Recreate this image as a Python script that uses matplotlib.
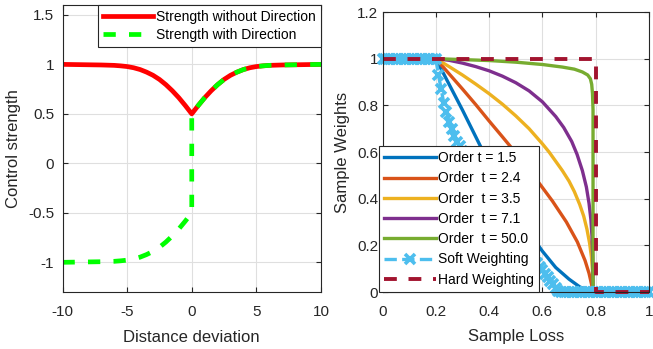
import numpy as np
import matplotlib
matplotlib.use('Agg')
import matplotlib.pyplot as plt

plt.rcParams['font.family'] = ['Liberation Sans', 'DejaVu Sans']

# ---- left panel data ----
dist_x = [-10, -9, -8, -7, -6, -5.5, -5, -4.5, -4, -3.5, -3, -2.5, -2, -1.5, -1, -0.5, 0,
          0.5, 1, 1.5, 2, 2.5, 3, 3.5, 4, 4.5, 5, 5.5, 6, 7, 8, 9, 10]
strength_plain = [1.0, 0.998, 0.996, 0.994, 0.99, 0.985, 0.978, 0.966, 0.948, 0.922, 0.89, 0.848,
                  0.795, 0.733, 0.663, 0.584, 0.5,
                  0.584, 0.663, 0.733, 0.795, 0.848, 0.89, 0.922, 0.948, 0.966, 0.978, 0.985, 0.99,
                  0.994, 0.996, 0.998, 1.0]
dist_x_dir = [-10, -9, -8, -7, -6, -5.5, -5, -4.5, -4, -3.5, -3, -2.5, -2, -1.5, -1, -0.5, 0, 0,
              0.5, 1, 1.5, 2, 2.5, 3, 3.5, 4, 4.5, 5, 5.5, 6, 7, 8, 9, 10]
strength_dir = [-1.0, -0.998, -0.996, -0.994, -0.99, -0.985, -0.978, -0.966, -0.948, -0.922, -0.89, -0.848,
                -0.795, -0.733, -0.663, -0.584, -0.5, 0.5,
                0.584, 0.663, 0.733, 0.795, 0.848, 0.89, 0.922, 0.948, 0.966, 0.978, 0.985, 0.99,
                0.994, 0.996, 0.998, 1.0]

# ---- right panel data ----
loss_t15 = [0, 0.2, 0.25, 0.3, 0.35, 0.4, 0.45, 0.5, 0.55, 0.6, 0.65, 0.7, 0.74, 0.77, 0.79, 1.0]
w_t15 = [1, 1, 0.89, 0.78, 0.665, 0.55, 0.445, 0.345, 0.255, 0.175, 0.105, 0.055, 0.022, 0.005, 0.0, 0.0]
loss_t24 = [0, 0.2, 0.25, 0.3, 0.35, 0.4, 0.45, 0.5, 0.55, 0.594, 0.6375, 0.69, 0.731, 0.76, 0.775,
            0.785, 0.79, 1.0]
w_t24 = [1, 1, 0.935, 0.87, 0.803, 0.733, 0.665, 0.596, 0.523, 0.457, 0.39, 0.3, 0.215, 0.135, 0.08,
         0.03, 0.0, 0.0]
loss_t35 = [0, 0.2, 0.25, 0.3, 0.35, 0.4, 0.45, 0.5, 0.55, 0.6, 0.625, 0.65, 0.675, 0.7, 0.72,
            0.74, 0.755, 0.767, 0.777, 0.784, 0.788, 0.79, 1.0]
w_t35 = [1, 1, 0.966, 0.93, 0.891, 0.85, 0.805, 0.755, 0.7, 0.635, 0.6, 0.56, 0.52, 0.475, 0.43,
         0.375, 0.325, 0.27, 0.21, 0.15, 0.09, 0.0, 0.0]
loss_t71 = [0, 0.2, 0.25, 0.3, 0.35, 0.4, 0.45, 0.5, 0.55, 0.6, 0.65, 0.68, 0.71, 0.73, 0.75,
            0.765, 0.775, 0.782, 0.786, 0.789, 0.79, 1.0]
w_t71 = [1, 1, 0.993, 0.981, 0.966, 0.948, 0.925, 0.897, 0.862, 0.815, 0.752, 0.705, 0.645, 0.59, 0.52,
         0.45, 0.38, 0.31, 0.24, 0.14, 0.0, 0.0]
loss_t50 = [0, 0.2, 0.3, 0.4, 0.5, 0.6, 0.675, 0.72, 0.75, 0.77, 0.78, 0.785, 0.788, 0.79, 0.79, 1.0]
w_t50 = [1, 1, 0.996, 0.992, 0.985, 0.975, 0.964, 0.955, 0.943, 0.93, 0.914, 0.89, 0.85, 0.78, 0.0, 0.0]

soft_loss = np.linspace(0, 1, 101)
soft_w = ([1.0] * 20 +
          [1.00, 0.93, 0.87, 0.81, 0.77, 0.73, 0.70, 0.67, 0.645, 0.625,
           0.605, 0.587, 0.569, 0.551, 0.533, 0.515, 0.497, 0.479, 0.461, 0.443,
           0.425, 0.408, 0.391, 0.374, 0.357, 0.34, 0.323, 0.306, 0.289, 0.272,
           0.255, 0.238, 0.221, 0.204, 0.188, 0.172, 0.156, 0.14, 0.124, 0.108,
           0.093, 0.078, 0.063, 0.048, 0.033, 0.018, 0.005, 0.0] +
          [0.0] * 33)

hard_loss = [0, 0.8, 0.8, 1.0]
hard_w = [1, 1, 0, 0]

order_labels = ['Order t = 1.5', 'Order  t = 2.4', 'Order  t = 3.5', 'Order  t = 7.1', 'Order  t = 50.0']
order_colors = ['#0072BD', '#D95319', '#EDB120', '#7E2F8E', '#77AC30']

axc = '#262626'

fig = plt.figure(figsize=(6.53, 3.49), dpi=100)
W, H = 653, 349
ax1 = fig.add_axes([62.5 / W, (H - 292) / H, (321 - 62.5) / W, (292 - 5) / H])
ax2 = fig.add_axes([382.5 / W, (H - 292) / H, (649 - 382.5) / W, (292 - 12) / H])


def style_axes(ax, ypad):
    ax.grid(True, color='#dfdfdf', lw=0.8)
    ax.set_axisbelow(True)
    ax.tick_params(direction='in', top=True, right=True, length=3.5, width=0.8,
                   colors=axc, labelsize=11)
    ax.tick_params(axis='x', pad=9.5)
    ax.tick_params(axis='y', pad=ypad)
    for s in ax.spines.values():
        s.set_color(axc)
        s.set_linewidth(0.8)


# left panel
ax1.plot(dist_x, strength_plain, color='#FF0000', lw=3.4, label='Strength without Direction')
ax1.plot(dist_x_dir, strength_dir, color='#00FF00', lw=3.4, ls='--', dashes=(2.6, 2.8),
         label='Strength with Direction')
ax1.set_xlim(-10, 10)
ax1.set_ylim(-1.3, 1.6)
ax1.set_xticks([-10, -5, 0, 5, 10])
ax1.set_yticks([-1, -0.5, 0, 0.5, 1, 1.5])
ax1.set_yticklabels(['-1', '-0.5', '0', '0.5', '1', '1.5'])
ax1.set_xticklabels(['-10', '-5', '0', '5', '10'])
style_axes(ax1, 6)
ax1.set_xlabel('Distance deviation', fontsize=12, color=axc, labelpad=8)
ax1.set_ylabel('Control strength', fontsize=12, color=axc, labelpad=5)
leg1 = ax1.legend(loc='upper right', bbox_to_anchor=(1, 1), borderaxespad=0, fontsize=10,
                  handlelength=3.6, handletextpad=0.25, labelspacing=0.3, borderpad=0.35,
                  fancybox=False, framealpha=1, edgecolor=axc)
leg1.get_frame().set_linewidth(0.8)

# right panel
series = [(loss_t15, w_t15), (loss_t24, w_t24), (loss_t35, w_t35), (loss_t71, w_t71), (loss_t50, w_t50)]
for (lx, wy), lab, col in zip(series, order_labels, order_colors):
    ax2.plot(lx, wy, color=col, lw=2.4, label=lab)
ax2.plot(soft_loss, soft_w, color='#4DBEEE', lw=2.4, ls='--', marker='x', markersize=7.5,
         markeredgewidth=2.6, clip_on=False, label='Soft Weighting')
ax2.plot(hard_loss, hard_w, color='#A2142F', lw=2.8, ls='--', dashes=(3.3, 3.0),
         clip_on=False, label='Hard Weighting')
ax2.set_xlim(0, 1)
ax2.set_ylim(0, 1.2)
ax2.set_xticks([0, 0.2, 0.4, 0.6, 0.8, 1])
ax2.set_xticklabels(['0', '0.2', '0.4', '0.6', '0.8', '1'])
ax2.set_yticks([0, 0.2, 0.4, 0.6, 0.8, 1, 1.2])
ax2.set_yticklabels(['0', '0.2', '0.4', '0.6', '0.8', '1', '1.2'])
style_axes(ax2, 3)
ax2.set_xlabel('Sample Loss', fontsize=12, color=axc, labelpad=7)
ax2.set_ylabel('Sample Weights', fontsize=12, color=axc, labelpad=5)
leg2 = ax2.legend(loc='lower left', bbox_to_anchor=(379 / W, (H - 292) / H),
                  bbox_transform=fig.transFigure, borderaxespad=0, fontsize=10,
                  handlelength=3.75, handletextpad=0.1, labelspacing=0.45, borderpad=0.38,
                  numpoints=1, fancybox=False, framealpha=1, edgecolor=axc)
leg2.get_frame().set_linewidth(0.8)
leg2.set_zorder(10)

fig.savefig('out.png', dpi=100)
